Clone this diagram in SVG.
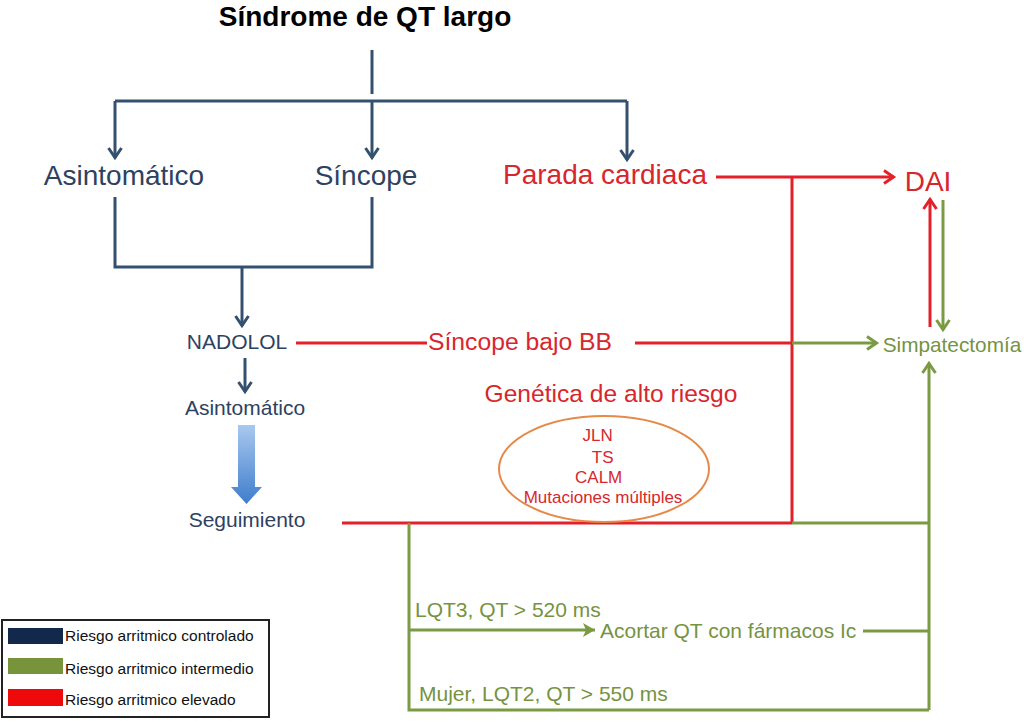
<svg xmlns="http://www.w3.org/2000/svg" width="1024" height="722" viewBox="0 0 1024 722">
  <style>
    text { font-family: "Liberation Sans", Arial, Helvetica, sans-serif; }
    .navy { fill: #2e4260; }
    .red { fill: #d8262d; }
    .green { fill: #76933f; }
    .l1 { font-size: 28px; }
    .l2 { font-size: 21px; }
    .ln { fill: none; stroke-width: 3; }
    .cn { stroke: #34506f; }
    .cr { stroke: #e4202a; }
    .cg { stroke: #7a9a44; }
    .leg { font-size: 15.5px; fill: #111; }
  </style>
  <defs>
    <marker id="aN" markerUnits="userSpaceOnUse" markerWidth="16" markerHeight="18" refX="11" refY="8" orient="auto" overflow="visible">
      <path d="M1,1.5 L10.5,8 L1,14.5" fill="none" stroke="#34506f" stroke-width="3"/>
    </marker>
    <marker id="aR" markerUnits="userSpaceOnUse" markerWidth="16" markerHeight="18" refX="11" refY="8" orient="auto" overflow="visible">
      <path d="M1,1.5 L10.5,8 L1,14.5" fill="none" stroke="#e4202a" stroke-width="3"/>
    </marker>
    <marker id="aG" markerUnits="userSpaceOnUse" markerWidth="16" markerHeight="18" refX="11" refY="8" orient="auto" overflow="visible">
      <path d="M1,1.5 L10.5,8 L1,14.5" fill="none" stroke="#7a9a44" stroke-width="3"/>
    </marker>
    <marker id="aGf" markerUnits="userSpaceOnUse" markerWidth="16" markerHeight="18" refX="12" refY="8" orient="auto" overflow="visible">
      <path d="M0,1 L12,8 L0,15 L3,8 Z" fill="#7a9a44"/>
    </marker>
    <linearGradient id="blk" x1="0" y1="0" x2="0" y2="1">
      <stop offset="0" stop-color="#a9c8ee"/>
      <stop offset="1" stop-color="#3f7dcc"/>
    </linearGradient>
  </defs>

  <g id="title"><text x="365" y="26" text-anchor="middle" font-size="28" font-weight="bold" fill="#000">Síndrome de QT largo</text></g>

  <g id="connectors">
    <path class="ln cn" d="M372,50 V94"/>
    <path class="ln cn" d="M115,101 H627"/>
    <path class="ln cn" d="M115,101 V158" marker-end="url(#aN)"/>
    <path class="ln cn" d="M372,101 V158" marker-end="url(#aN)"/>
    <path class="ln cn" d="M627,101 V160" marker-end="url(#aN)"/>
    <path class="ln cn" d="M115,197 V267 H372 V197"/>
    <path class="ln cn" d="M242,267 V326" marker-end="url(#aN)"/>
    <path class="ln cn" d="M245,358 V392" marker-end="url(#aN)"/>

    <path class="ln cr" d="M296,343 H427"/>
    <path class="ln cr" d="M635,343 H792"/>
    <path class="ln cr" d="M716,177 H894" marker-end="url(#aR)"/>
    <path class="ln cr" d="M792,177 V523"/>
    <path class="ln cr" d="M342,523 H792"/>
    <path class="ln cr" d="M930,327 V199" marker-end="url(#aR)"/>

    <path class="ln cg" d="M792,343 H877" marker-end="url(#aG)"/>
    <path class="ln cg" d="M943,200 V330" marker-end="url(#aG)"/>
    <path class="ln cg" d="M792,523 H929"/>
    <path class="ln cg" d="M929,710 V363" marker-end="url(#aG)"/>
    <path class="ln cg" d="M409,523 V710 H929"/>
    <path class="ln cg" d="M409,630 H595" marker-end="url(#aGf)"/>
    <path class="ln cg" d="M863,631 H929"/>

    <path d="M238,425 H255 V487 H262 L246.5,504 L231,487 H238 Z" fill="url(#blk)"/>
  </g>

  <g id="asintomatico1"><text class="navy l1" x="124" y="185" text-anchor="middle">Asintomático</text></g>
  <g id="sincope"><text class="navy l1" x="366" y="185" text-anchor="middle">Síncope</text></g>
  <g id="parada"><text class="red l1" x="605" y="184" text-anchor="middle">Parada cardiaca</text></g>
  <g id="dai"><text class="red l1" x="928" y="191" text-anchor="middle">DAI</text></g>

  <g id="nadolol"><text class="navy l2" x="237" y="349" text-anchor="middle">NADOLOL</text></g>
  <g id="sincope-bb"><text class="red" x="520" y="350" text-anchor="middle" font-size="24.7">Síncope bajo BB</text></g>
  <g id="simpatectomia"><text class="green" x="952" y="352" text-anchor="middle" font-size="20.8">Simpatectomía</text></g>
  <g id="asintomatico2"><text class="navy l2" x="245" y="415" text-anchor="middle">Asintomático</text></g>
  <g id="genetica"><text class="red" x="611" y="402" text-anchor="middle" font-size="24.6">Genética de alto riesgo</text></g>
  <g id="seguimiento"><text class="navy l2" x="247" y="527" text-anchor="middle">Seguimiento</text></g>

  <g id="genes">
    <ellipse cx="604" cy="469" rx="105" ry="53" fill="none" stroke="#e58a48" stroke-width="2"/>
    <text class="red" font-size="17" text-anchor="middle">
      <tspan x="600" y="441">JLN</tspan>
      <tspan x="605" y="463">TS</tspan>
      <tspan x="601" y="483">CALM</tspan>
      <tspan x="603" y="503">Mutaciones múltiples</tspan>
    </text>
  </g>

  <g id="lqt3"><text class="green" x="415" y="617" font-size="21">LQT3, QT &gt; 520 ms</text></g>
  <g id="acortar"><text class="green" x="600" y="638" font-size="21">Acortar QT con fármacos Ic</text></g>
  <g id="lqt2"><text class="green" x="419" y="701" font-size="21">Mujer, LQT2, QT &gt; 550 ms</text></g>

  <g id="legend">
    <rect x="2" y="620" width="267" height="97" fill="#fff" stroke="#222" stroke-width="2"/>
    <rect x="8" y="628" width="55" height="16" fill="#13294b"/>
    <rect x="8" y="658" width="55" height="16" fill="#77933c"/>
    <rect x="8" y="689" width="55" height="17" fill="#ee0a0a"/>
    <text class="leg" x="65" y="641">Riesgo arritmico controlado</text>
    <text class="leg" x="65" y="674">Riesgo arritmico intermedio</text>
    <text class="leg" x="65" y="705">Riesgo arritmico elevado</text>
  </g>
</svg>
